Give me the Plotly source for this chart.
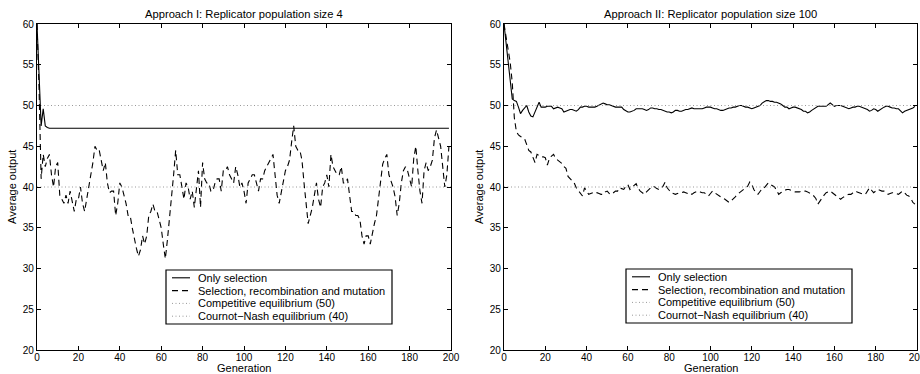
import plotly.graph_objects as go

generations = list(range(200))

# Approach I (population size 4)
only_sel_I = [60, 53, 47.5, 49.6, 47.5, 47.3] + [47.2] * 194
srm_I = [
    60, 52, 41, 44, 42.5, 43.5, 44, 41.5, 40, 42.5,
    43, 39, 38.5, 38, 39, 38, 39.5, 38, 37, 38.5,
    38.5, 40, 38, 37, 38.5, 39.5, 41, 43, 45, 44.5,
    44.6, 43.3, 42, 43, 40.5, 39.3, 39.5, 39.5, 36.5, 38,
    40.5, 40, 39, 38, 36.5, 36.5, 35, 33.5, 32.5, 31.5,
    32.3, 34, 33, 34, 36.5, 37, 37.9, 37, 37, 36,
    35, 33, 31.2, 33.5, 36, 38.5, 41.5, 44.5, 41.5, 41.5,
    40, 38.5, 40.5, 40, 38.5, 39.5, 37.5, 39.5, 42, 37.5,
    43, 41, 40.5, 40.5, 39.5, 39.5, 40.5, 41, 41, 39.5,
    42, 42, 42.5, 41.5, 41, 40.5, 42.5, 41.5, 40, 40.5,
    39.5, 38, 40.5, 41, 41.5, 41.5, 40.5, 39.5, 41, 41,
    42, 42.5, 42.8, 43.5, 44, 41.5, 39, 38, 39.5, 41,
    42, 42.5, 43.3, 45.5, 47.5, 45, 44.5, 44.5, 43.3, 40.5,
    38, 35.5, 36.5, 37.5, 39, 40.5, 38.5, 37.5, 40, 40.5,
    41.5, 40, 44, 42.5, 42, 41.5, 41.5, 42.5, 40.5, 40.5,
    41, 39, 37, 37, 36.5, 36.5, 36, 34, 33, 34,
    34, 33, 34.5, 35.5, 36.5, 38.5, 41, 42.8, 43.5, 44,
    41.5, 40.8, 40, 38.8, 36.5, 38, 40.5, 42, 42.5, 42,
    41, 40, 43.5, 45, 42, 39.5, 38, 42, 43, 42,
    42.5, 43.3, 46, 47, 46, 45, 42.5, 40, 41.5, 45,
]

# Approach II (population size 100)
only_sel_II = [
    60, 57.5, 55.3, 53, 50.8, 50.6, 50.5, 49.8, 49.0, 49.4,
    49.7, 50.0, 49.2, 48.7, 48.6, 49.2, 50.0, 50.4, 49.8, 49.8,
    49.8, 49.9, 49.9, 49.9, 49.6, 49.7, 49.8, 49.7, 49.6, 49.2,
    49.3, 49.4, 49.5, 49.5, 49.4, 49.3, 49.5, 49.8, 49.8, 49.9,
    49.9, 49.8, 49.8, 49.8, 49.8, 49.9, 50.0, 50.1, 50.3, 50.2,
    50.1, 50.1, 50.0, 49.9, 49.8, 49.8, 49.8, 49.8, 49.5, 49.3,
    49.2, 49.2, 49.3, 49.4, 49.6, 49.6, 49.6, 49.6, 49.5, 49.4,
    49.5, 49.7, 49.7, 49.6, 49.6, 49.5, 49.5, 49.4, 49.3, 49.2,
    49.2, 49.1, 49.2, 49.4, 49.4, 49.3, 49.3, 49.4, 49.5, 49.5,
    49.6, 49.7, 49.6, 49.6, 49.6, 49.6, 49.6, 49.7, 49.8, 49.8,
    49.8, 49.7, 49.6, 49.6, 49.5, 49.4, 49.4, 49.5, 49.6, 49.7,
    49.7, 49.8, 49.8, 49.9, 50.0, 50.0, 49.9, 49.8, 49.8, 49.7,
    49.6, 49.7, 49.8, 49.9, 50.0, 50.3, 50.5, 50.6, 50.6, 50.5,
    50.5, 50.4, 50.4, 50.3, 50.2, 50.0, 49.8, 49.8, 49.6, 49.7,
    49.8, 49.8, 49.7, 49.6, 49.5, 49.3, 49.3, 49.1, 49.2, 49.4,
    49.6, 49.8, 49.9, 49.9, 49.9, 49.9, 49.9, 50.1, 50.3, 50.1,
    49.9, 50.0, 50.0, 50.0, 49.9, 49.8, 49.7, 49.6, 49.7, 49.8,
    49.8, 49.9, 49.9, 49.8, 49.7, 49.6, 49.5, 49.3, 49.4, 49.6,
    49.5, 49.3, 49.5, 49.7, 49.8, 49.9, 49.9, 49.8, 49.7, 49.7,
    49.6, 49.6, 49.4, 49.1, 49.3, 49.4, 49.5, 49.6, 49.7, 49.9,
]
srm_II = [
    60, 58.5, 57, 55.3, 52.8, 48.5, 46.8, 46.4, 46.2, 46.0,
    45.9, 45.2, 44.5, 44.3, 43.5, 43.0, 44.0, 43.8, 43.7, 43.7,
    43.6, 42.7, 43.5, 43.8, 44.0, 43.5, 43.3, 43.1, 42.9, 42.5,
    42.3, 41.3, 41.0, 40.8, 40.5, 39.9, 39.6, 39.3, 38.9, 39.9,
    39.5, 39.1, 39.2, 39.3, 39.2, 39.3, 39.2, 39.1, 39.1, 39.4,
    39.5, 39.2, 39.1, 39.3, 39.5, 39.5, 39.9, 39.8, 39.7, 40.1,
    40.3, 39.7, 40.0, 40.2, 40.4, 39.8, 39.5, 39.3, 39.1, 39.4,
    39.7, 39.9, 40.1, 40.0, 39.8, 39.7, 39.8, 40.1, 40.6, 39.9,
    39.6, 39.3, 39.2, 39.1, 39.2, 39.3, 39.3, 39.4, 39.3, 39.2,
    39.3, 39.1, 39.3, 39.4, 39.5, 39.4, 39.3, 39.3, 39.1, 38.9,
    39.2, 39.5, 39.3, 39.1, 38.9, 38.7, 38.6, 38.5, 38.3, 38.1,
    38.3, 38.5, 38.8, 39.1, 39.3, 39.5, 39.7, 39.9, 40.1, 40.6,
    40.3, 39.7, 39.3, 39.1, 39.5, 39.8, 39.9, 40.2, 40.5, 40.3,
    40.1, 40.0, 39.6, 39.1, 39.3, 39.5, 39.6, 39.7, 39.7, 39.6,
    39.5, 39.4, 39.4, 39.4, 39.5, 39.5, 39.5, 39.4, 39.3, 39.1,
    38.9, 38.6, 37.9, 38.3, 38.7, 39.0, 39.3, 39.4, 39.5, 39.3,
    39.1, 38.9, 38.7, 38.5, 38.7, 38.9, 39.0, 39.1, 39.1, 39.3,
    39.5, 39.4, 39.3, 39.2, 39.1, 39.1, 39.5, 39.9, 39.6, 39.3,
    39.5, 39.7, 39.6, 39.5, 39.5, 39.3, 39.1, 39.2, 39.3, 39.3,
    39.2, 39.1, 39.3, 39.5, 39.3, 39.0, 38.9, 38.6, 38.1, 37.9,
]

eq_x = [0, 200]
competitive_eq = [50, 50]
cournot_eq = [40, 40]

titles = ["Approach I: Replicator population size 4",
          "Approach II: Replicator population size 100"]
x_title = "Generation"
y_title = "Average output"
names = ["Only selection", "Selection, recombination and mutation",
         "Competitive equilibrium (50)", "Cournot\u2212Nash equilibrium (40)"]
x_ticks = list(range(0, 201, 20))
y_ticks = list(range(20, 61, 5))

FONT = "Liberation Sans, Arial, Helvetica, sans-serif"
W, H = 920, 374

SOLID = dict(color="black", width=1.1)
DASHED = dict(color="black", width=1.1, dash="6px,4px")
DOTTED = dict(color="#999999", width=1, dash="1px,2.5px")
styles = [SOLID, DASHED, DOTTED, DOTTED]

fig = go.Figure()

panels = [
    (only_sel_I, srm_I, "x", "y"),
    (only_sel_II, srm_II, "x2", "y2"),
]
for sol, dsh, xa, ya in panels:
    series = [(generations, sol), (generations, dsh),
              (eq_x, competitive_eq), (eq_x, cournot_eq)]
    for (xs, ys), nm, st in zip(series, names, styles):
        fig.add_trace(go.Scatter(x=xs, y=ys, mode="lines", name=nm, line=st,
                                 xaxis=xa, yaxis=ya, showlegend=False))

ydom = [1 - 350 / H, 1 - 24 / H]
xdoms = [[37 / W, 451 / W], [504 / W, 917 / W]]

axis_common = dict(showgrid=False, zeroline=False, showline=True, mirror="ticks",
                   linecolor="black", linewidth=1.2, ticks="inside", ticklen=4,
                   tickcolor="black", tickwidth=1, automargin=False,
                   ticklabeloverflow="allow",
                   tickfont=dict(family=FONT, size=10, color="black"))

fig.update_layout(
    width=W, height=H,
    margin=dict(l=0, r=0, t=0, b=0),
    paper_bgcolor="white", plot_bgcolor="white",
    font=dict(family=FONT, color="black"),
    showlegend=False,
    xaxis=dict(domain=xdoms[0], range=[0, 200], tickvals=x_ticks, anchor="y",
               ticklabelstandoff=-2, **axis_common),
    yaxis=dict(domain=ydom, range=[20, 60], tickvals=y_ticks, anchor="x", **axis_common),
    xaxis2=dict(domain=xdoms[1], range=[0, 200], tickvals=x_ticks, anchor="y2",
                ticklabelstandoff=-2, **axis_common),
    yaxis2=dict(domain=ydom, range=[20, 60], tickvals=y_ticks, anchor="x2", **axis_common),
)

for i, t in enumerate(titles):
    xc = (xdoms[i][0] + xdoms[i][1]) / 2
    fig.add_annotation(text=t, x=xc, y=1 - 14 / H,
                       xref="paper", yref="paper", showarrow=False,
                       xanchor="center", yanchor="middle",
                       font=dict(family=FONT, size=11.2, color="black"))
    fig.add_annotation(text=x_title, x=xc, y=1 - 368 / H,
                       xref="paper", yref="paper", showarrow=False,
                       xanchor="center", yanchor="middle", borderpad=0,
                       font=dict(family=FONT, size=11, color="black"))
    fig.add_annotation(text=y_title, x=(xdoms[i][0] * W - 25) / W, y=(ydom[0] + ydom[1]) / 2,
                       xref="paper", yref="paper", showarrow=False, textangle=-90,
                       xanchor="center", yanchor="middle",
                       font=dict(family=FONT, size=11, color="black"))

# legend boxes (one per panel), drawn in paper coordinates
legend_boxes = [(166, 270, 392, 324), (626, 269, 852, 323)]
for (bx0, by0, bx1, by1) in legend_boxes:
    fig.add_shape(type="rect", xref="paper", yref="paper",
                  x0=bx0 / W, x1=bx1 / W, y0=1 - by1 / H, y1=1 - by0 / H,
                  line=dict(color="black", width=1.2), fillcolor="white", layer="above")
    for k, (nm, st) in enumerate(zip(names, styles)):
        yc = by0 + 7.8 + k * 12.8
        fig.add_shape(type="line", xref="paper", yref="paper",
                      x0=(bx0 + 6) / W, x1=(bx0 + 24) / W,
                      y0=1 - yc / H, y1=1 - yc / H, line=st, layer="above")
        fig.add_annotation(text=nm, x=(bx0 + 30) / W, y=1 - yc / H,
                           xref="paper", yref="paper", showarrow=False,
                           xanchor="left", yanchor="middle",
                           font=dict(family=FONT, size=11, color="black"))

fig.write_html("out.html")
